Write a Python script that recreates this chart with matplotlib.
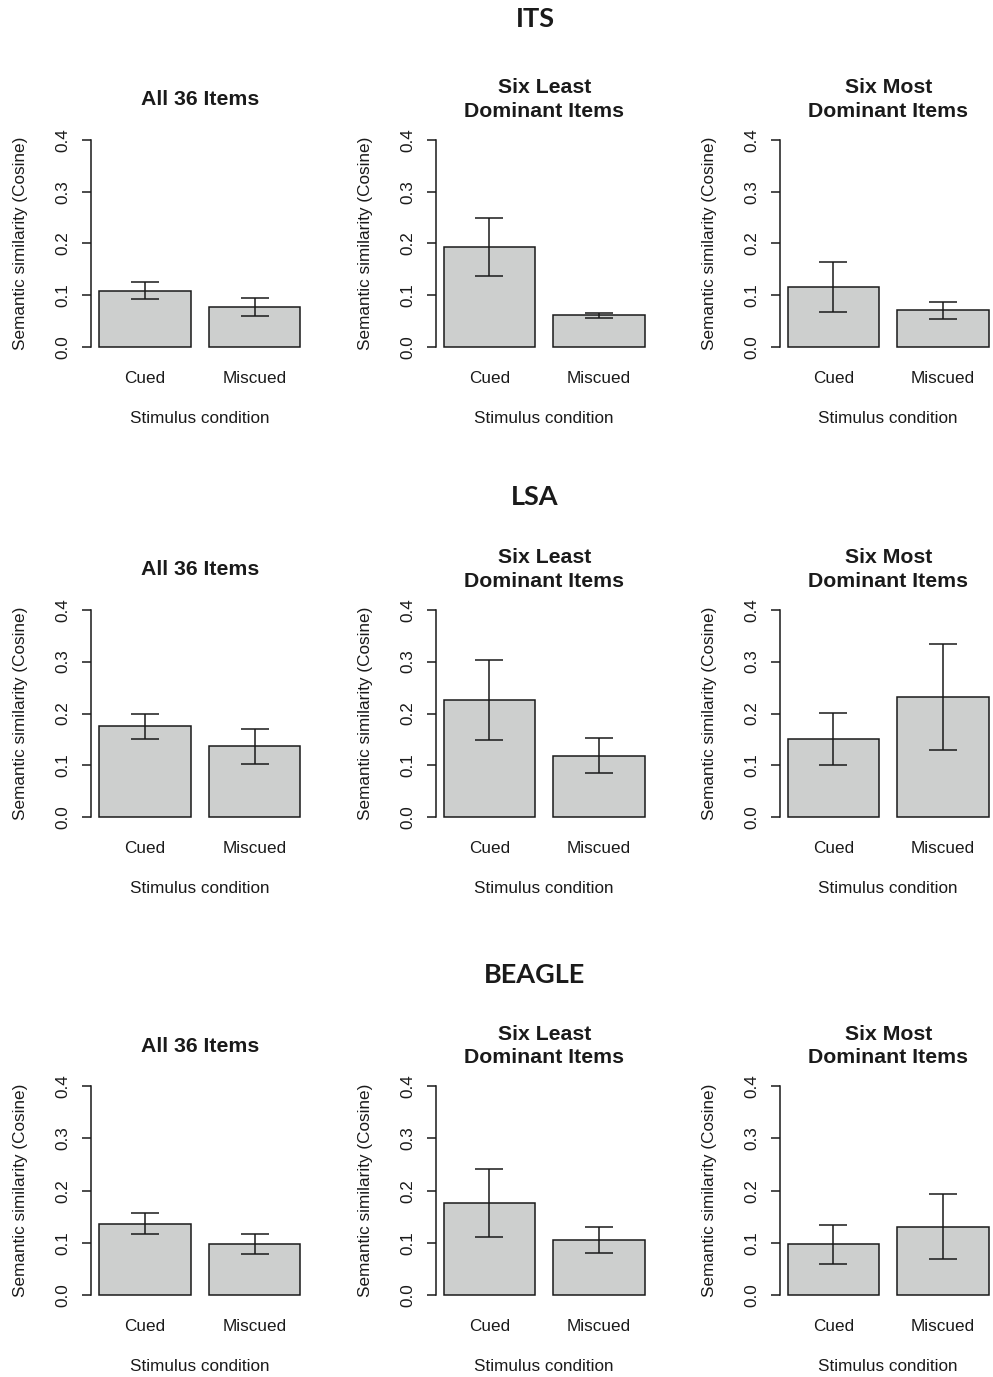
import matplotlib
matplotlib.use('Agg')
import matplotlib.pyplot as plt
import numpy as np

# row (model) titles and panel titles
models = ['ITS', 'LSA', 'BEAGLE']
panel_titles = ['All 36 Items', 'Six Least\nDominant Items', 'Six Most\nDominant Items']
conditions = ['Cued', 'Miscued']

# means [cued, miscued] per panel
its_means = [[0.109, 0.077], [0.194, 0.061], [0.116, 0.071]]
its_err = [[0.017, 0.017], [0.056, 0.005], [0.049, 0.016]]
lsa_means = [[0.175, 0.137], [0.226, 0.119], [0.151, 0.232]]
lsa_err = [[0.024, 0.034], [0.077, 0.033], [0.050, 0.102]]
beagle_means = [[0.137, 0.098], [0.176, 0.106], [0.097, 0.131]]
beagle_err = [[0.020, 0.019], [0.065, 0.025], [0.037, 0.062]]

all_means = [its_means, lsa_means, beagle_means]
all_err = [its_err, lsa_err, beagle_err]

W, H = 993, 1377
fig = plt.figure(figsize=(W / 100, H / 100), dpi=100)

SANS = ['Liberation Sans', 'DejaVu Sans']
BAR = '#cdcfce'
INK = '#1a1a1a'
FS = 12.3

# axes frames in pixels (top, bottom) per row, left per column
row_tb = [(131.7, 355.3), (601.4, 825.6), (1078.0, 1303.3)]
row_title_y = [19, 497, 975]
col_left = [91, 435.5, 779.5]
ax_w = 217.4


def fx(px):
    return px / W


def fy(py):
    return 1 - py / H


for r, model in enumerate(models):
    top, bot = row_tb[r]
    fig.text(fx(535), fy(row_title_y[r]), model, ha='center', va='center',
             fontsize=19.5, fontweight='bold', family=['Lato', 'DejaVu Sans'],
             color=INK)
    for c in range(3):
        left = col_left[c]
        ax = fig.add_axes([fx(left), fy(bot), fx(ax_w), (bot - top) / H])
        x = np.array([0.7, 1.9])
        ax.bar(x, all_means[r][c], width=1.0, color=BAR, edgecolor=INK,
               linewidth=1.1, zorder=2)
        ax.errorbar(x, all_means[r][c], yerr=all_err[r][c], fmt='none',
                    ecolor=INK, elinewidth=1.1, capsize=10, capthick=1.1, zorder=3)
        ax.set_xlim(0.112, 2.488)
        ax.set_ylim(-0.016, 0.416)
        for s in ['top', 'right', 'bottom']:
            ax.spines[s].set_visible(False)
        ax.spines['left'].set_bounds(0, 0.4)
        ax.spines['left'].set_linewidth(1.1)
        ax.spines['left'].set_color(INK)
        ax.set_yticks([0.0, 0.1, 0.2, 0.3, 0.4])
        ax.set_yticklabels(['0.0', '0.1', '0.2', '0.3', '0.4'], rotation=90,
                           va='center', family=SANS, fontsize=FS, color=INK)
        ax.tick_params(axis='y', length=6.5, width=1.1, color=INK, pad=8)
        ax.set_xticks([])
        ax.patch.set_visible(False)

        cx = left + ax_w / 2
        for xi, lab in zip(x, conditions):
            px = left + (xi - 0.112) / 2.376 * ax_w
            fig.text(fx(px), fy(bot + 23), lab, ha='center', va='center',
                     family=SANS, fontsize=FS, color=INK)
        fig.text(fx(cx), fy(bot + 63), 'Stimulus condition', ha='center',
                 va='center', family=SANS, fontsize=FS, color=INK)
        fig.text(fx(left - 70), fy((top + bot) / 2), 'Semantic similarity (Cosine)',
                 ha='center', va='center', rotation=90, family=SANS,
                 fontsize=FS, color=INK)
        fig.text(fx(cx), fy(top - 32), panel_titles[c], ha='center', va='center',
                 family=SANS, fontsize=15.3, fontweight='bold', color=INK,
                 linespacing=1.3)

fig.savefig('out.png', dpi=100, facecolor='white')
